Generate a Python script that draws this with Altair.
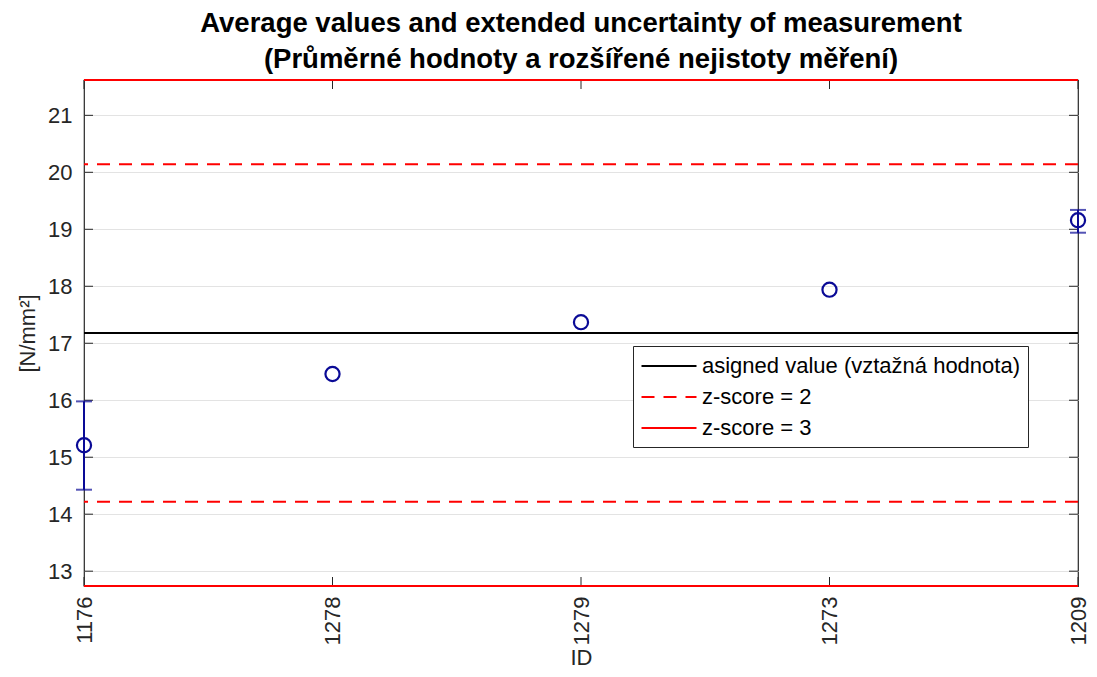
import altair as alt
import pandas as pd

ids = ["1176", "1278", "1279", "1273", "1209"]
means = [15.21, 16.46, 17.37, 17.94, 19.16]
err_low = [14.43, None, None, None, 18.94]
err_high = [15.98, None, None, None, 19.34]

series_names = ["asigned value (vztažná hodnota)", "z-score = 2", "z-score = 3"]
assigned = 17.18
z2_lines = [14.22, 20.14]
z3_lines = [12.74, 21.62]
y_ticks = [13, 14, 15, 16, 17, 18, 19, 20, 21]

W, H = 994, 506
FONT = "Liberation Sans"
TXT = "#262626"
BLUE = "#0a0a96"

pts = pd.DataFrame({"id": ids, "mean": means, "lo": err_low, "hi": err_high})
errs = pts.dropna()
lines = pd.DataFrame({
    "series": [series_names[0]] + [series_names[1]] * 2 + [series_names[2]] * 2,
    "y": [assigned] + z2_lines + z3_lines,
})
ticks = pd.DataFrame({"v": y_ticks})

xsc = alt.Scale(type="point", padding=0, domain=ids)
ysc = alt.Scale(domain=[z3_lines[0], z3_lines[1]], nice=False, zero=False)

base_x = alt.X("id:N", scale=xsc, sort=ids,
               axis=alt.Axis(title="ID", labelAngle=270, labelFontSize=22, titleFontSize=22,
                             labelColor=TXT, titleColor=TXT, labelPadding=10,
                             titleBaseline="alphabetic", titleY=78,
                             ticks=False, domain=False, grid=False, titleFontWeight="normal"))
base_y = alt.Y("mean:Q", scale=ysc,
               axis=alt.Axis(title="[N/mm²]", values=y_ticks, format="d", labelFontSize=22,
                             titleFontSize=22, labelColor=TXT, titleColor=TXT, labelPadding=12,
                             titlePadding=8, ticks=False, domain=False, grid=True,
                             gridColor="#e3e3e3", titleFontWeight="normal"))

points = alt.Chart(pts).mark_point(shape="circle", filled=False, size=200, strokeWidth=2.2,
                                    color=BLUE, opacity=1).encode(x=base_x, y=base_y)

err_rule = alt.Chart(errs).mark_rule(color=BLUE, strokeWidth=2).encode(
    x=alt.X("id:N", scale=xsc, sort=ids), y=alt.Y("lo:Q", scale=ysc), y2="hi:Q")
cap_lo = alt.Chart(errs).mark_tick(color=BLUE, orient="horizontal", size=16, thickness=2).encode(
    x=alt.X("id:N", scale=xsc, sort=ids), y=alt.Y("lo:Q", scale=ysc))
cap_hi = alt.Chart(errs).mark_tick(color=BLUE, orient="horizontal", size=16, thickness=2).encode(
    x=alt.X("id:N", scale=xsc, sort=ids), y=alt.Y("hi:Q", scale=ysc))

ref_lines = alt.Chart(lines).mark_rule(strokeWidth=2).encode(
    y=alt.Y("y:Q", scale=ysc),
    color=alt.Color("series:N", scale=alt.Scale(domain=series_names, range=["black", "red", "red"]),
                    legend=alt.Legend(title=None)),
    strokeDash=alt.StrokeDash("series:N", scale=alt.Scale(domain=series_names,
                                                          range=[[1, 0], [13, 9], [1, 0]]),
                              legend=alt.Legend(title=None)),
)

tick_l = alt.Chart(ticks).mark_rule(color=TXT, strokeWidth=1).encode(
    y=alt.Y("v:Q", scale=ysc), x=alt.value(0), x2=alt.value(9))
tick_r = alt.Chart(ticks).mark_rule(color=TXT, strokeWidth=1).encode(
    y=alt.Y("v:Q", scale=ysc), x=alt.value(W - 9), x2=alt.value(W))
xt = pd.DataFrame({"id": ids})
tick_b = alt.Chart(xt).mark_rule(color=TXT, strokeWidth=1).encode(
    x=alt.X("id:N", scale=xsc, sort=ids), y=alt.value(H - 9), y2=alt.value(H))
tick_t = alt.Chart(xt).mark_rule(color=TXT, strokeWidth=1).encode(
    x=alt.X("id:N", scale=xsc, sort=ids), y=alt.value(0), y2=alt.value(9))

chart = alt.layer(tick_l, tick_r, tick_b, tick_t, ref_lines, err_rule, cap_lo, cap_hi, points).properties(
    width=W, height=H,
    autosize=alt.AutoSizeParams(type="none"),
    padding={"left": 76, "top": 72, "right": 11, "bottom": 83},
    title=alt.TitleParams(
        text=["Average values and extended uncertainty of measurement",
              "(Průměrné hodnoty a rozšířené nejistoty měření)"],
        fontSize=27.5, font=FONT, fontWeight="bold", color="black", anchor="middle",
        lineHeight=36, offset=6),
).configure(font=FONT).configure_view(stroke=TXT, strokeWidth=1.2).configure_legend(
    orient="none", legendX=549, legendY=266, strokeColor=TXT, fillColor="white",
    padding=8, labelFontSize=22, labelColor="black", labelFont=FONT,
    symbolType="M-2.5,0H2.5", symbolSize=484, symbolStrokeWidth=2, symbolOffset=16,
    labelOffset=21, rowPadding=8, cornerRadius=0, labelLimit=500,
).resolve_scale(x="shared", y="shared")

chart.save("out.html", embed_options={"renderer": "svg", "actions": False})
